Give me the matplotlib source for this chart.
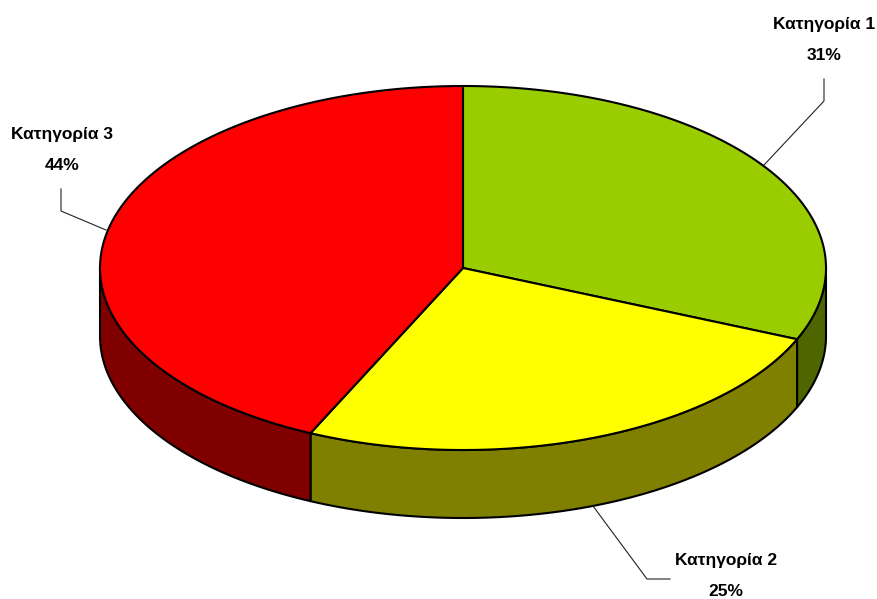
import numpy as np
import matplotlib
matplotlib.use('Agg')
import matplotlib.pyplot as plt

categories = ['Κατηγορία 1', 'Κατηγορία 2', 'Κατηγορία 3']
shares = [31.4, 25.5, 43.1]
share_labels = ['31%', '25%', '44%']
top_colors = ['#9ACD00', '#FFFF00', '#FF0000']
side_colors = ['#4D6600', '#808000', '#800000']

plt.rcParams['font.family'] = ['Liberation Sans', 'DejaVu Sans']

# pie geometry in pixels
cx, cy = 463, 268
rx, ry = 363, 182
depth = 68


def rim(t):
    # t in degrees, clockwise from top
    r = np.radians(t)
    return cx + rx * np.sin(r), cy - ry * np.cos(r)


fig = plt.figure(figsize=(8.77, 5.99), dpi=100)
ax = fig.add_axes([0, 0, 1, 1])
ax.set_xlim(0, 877)
ax.set_ylim(599, 0)
ax.axis('off')

edges = np.cumsum([0] + shares) * 3.6

# side walls, only the front half of the rim shows
for i in range(3):
    a = max(edges[i], 90)
    b = min(edges[i + 1], 270)
    if a >= b:
        continue
    t = np.linspace(a, b, 200)
    x, y = rim(t)
    xs = np.r_[x, x[::-1]]
    ys = np.r_[y, y[::-1] + depth]
    ax.fill(xs, ys, facecolor=side_colors[i], edgecolor='black', lw=1.5,
            joinstyle='round', zorder=2)

# top slices
for i in range(3):
    t = np.linspace(edges[i], edges[i + 1], 300)
    x, y = rim(t)
    ax.fill(np.r_[cx, x], np.r_[cy, y], facecolor=top_colors[i],
            edgecolor='black', lw=1.5, joinstyle='round', zorder=3)

# leader lines
leaders = [
    ([824, 824, 764], [79, 101, 165]),
    ([670, 647, 593], [579, 579, 506]),
    ([61, 61, 106], [189, 211, 230]),
]
for lx, ly in leaders:
    ax.plot(lx, ly, color='#222222', lw=0.8, zorder=1)

# labels
label_pos = [(824, 25, 56), (726, 560, 592), (62, 134, 166)]
for name, pct, (x, y1, y2) in zip(categories, share_labels, label_pos):
    ax.text(x, y1, name, ha='center', va='center', fontsize=12.5,
            fontweight='bold', color='black')
    ax.text(x, y2, pct, ha='center', va='center', fontsize=12.5,
            fontweight='bold', color='black')

fig.savefig('out.png', dpi=100)
